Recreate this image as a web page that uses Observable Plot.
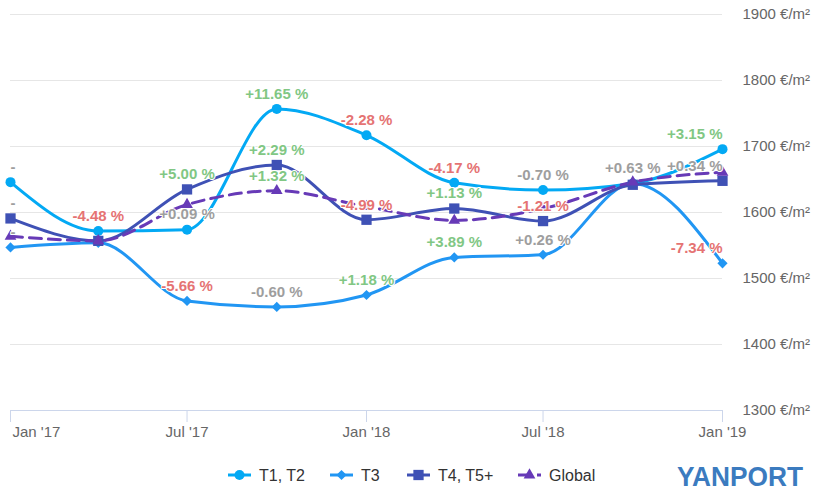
<!DOCTYPE html>
<html>
<head>
<meta charset="utf-8">
<script src="https://cdn.jsdelivr.net/npm/d3@7"></script>
<script src="https://cdn.jsdelivr.net/npm/@observablehq/plot@0.6"></script>
<style>
  body { margin: 0; background: #fff; }
  #chart { width: 824px; font-family: "Liberation Sans", Arial, sans-serif; }
  #chart svg { display: block; }
</style>
</head>
<body>
<div id="chart"></div>
<script>
// ---- data ----
const dates = ["2017-01-01","2017-04-01","2017-07-01","2017-10-01","2018-01-01","2018-04-01","2018-07-01","2018-10-01","2019-01-01"];
const seriesNames = ["T1, T2", "T3", "T4, T5+", "Global"];
const t1t2 = [1646, 1572, 1574, 1757, 1717, 1645, 1634, 1644, 1696];
const t3 = [1547, 1554, 1466, 1457, 1475, 1532, 1536, 1644, 1523];
const t4t5 = [1591, 1557, 1635, 1672, 1589, 1606, 1587, 1642, 1648];
const globalSeries = [1564, 1557, 1612, 1633, 1609, 1588, 1606, 1646, 1661];
const t1t2Labels = ["-", "-4.48 %", "+0.09 %", "+11.65 %", "-2.28 %", "-4.17 %", "-0.70 %", "+0.63 %", "+3.15 %"];
const t3Labels = ["-", null, "-5.66 %", "-0.60 %", "+1.18 %", "+3.89 %", "+0.26 %", null, "-7.34 %"];
const t4t5Labels = ["-", null, "+5.00 %", "+2.29 %", "-4.99 %", "+1.13 %", "-1.21 %", null, "+0.34 %"];
const globalLabels = [null, null, null, "+1.32 %", null, null, null, null, null];
const yTicks = [1300, 1400, 1500, 1600, 1700, 1800, 1900];
const xTicks = ["2017-01-01", "2017-07-01", "2018-01-01", "2018-07-01", "2019-01-01"];
const xTickLabels = ["Jan '17", "Jul '17", "Jan '18", "Jul '18", "Jan '19"];

// ---- styles ----
const colors = ["#03a9f4", "#2196f3", "#3f51b5", "#673ab7"];
const symbols = ["circle", "diamond2", "square", "triangle2"];
const radii = [5, 4.6, 5.8, 5.6];
const font = "Liberation Sans, Arial, sans-serif";

const allValues = [t1t2, t3, t4t5, globalSeries];
const allLabels = [t1t2Labels, t3Labels, t4t5Labels, globalLabels];

const series = seriesNames.map((name, i) =>
  dates.map((d, j) => ({date: new Date(d), value: allValues[i][j], name, label: allLabels[i][j], idx: j}))
);

const labelRows = series.flat().filter(r => r.label != null);
const last = dates.length - 1;
function labelColor(r) {
  const v = parseFloat(r.label.replace(/[^\d.+-]/g, ""));
  if (isNaN(v) || Math.abs(v) < 1) return "#9e9e9e";
  return v > 0 ? "#81c784" : "#e57373";
}

const marks = [
  Plot.gridY(yTicks.filter(t => t !== 1300), {stroke: "#e6e6e6", strokeOpacity: 1}),
  Plot.ruleY([1300], {stroke: "#ccd6eb"}),
  Plot.axisX({ticks: xTicks.map(d => new Date(d)), tickSize: 12, stroke: "#ccd6eb", strokeOpacity: 1, tickFormat: () => "", label: null}),
  Plot.text(xTicks.slice(0, 1).map((d, i) => ({date: new Date(d), t: xTickLabels[i]})),
    {x: "date", y: () => 1300, text: "t", dy: 22, textAnchor: "start", dx: 2, fontSize: 15, fill: "#666"}),
  Plot.text(xTicks.slice(1).map((d, i) => ({date: new Date(d), t: xTickLabels[i + 1]})),
    {x: "date", y: () => 1300, text: "t", dy: 22, textAnchor: "middle", fontSize: 15, fill: "#666"}),
  Plot.axisY({anchor: "right", ticks: yTicks, tickSize: 0, tickPadding: 20, tickFormat: d => `${d} €/m²`, fontSize: 15, fill: "#666", label: null})
];

series.forEach((rows, i) => {
  marks.push(Plot.line(rows, {
    x: "date", y: "value", stroke: colors[i], strokeWidth: 3, curve: "monotone-x",
    strokeDasharray: i === 3 ? "12,7" : null
  }));
});
series.forEach((rows, i) => {
  marks.push(Plot.dot(rows, {x: "date", y: "value", symbol: symbols[i], r: radii[i], fill: colors[i], stroke: "none"}));
});

const textOpts = {x: "date", y: "value", text: "label", dy: -15, fontSize: 15, fontWeight: "bold",
  fill: labelColor, stroke: "white", strokeWidth: 2};
marks.push(Plot.text(labelRows.filter(r => r.idx === 0), {...textOpts, textAnchor: "start"}));
marks.push(Plot.text(labelRows.filter(r => r.idx > 0 && r.idx < last), {...textOpts, textAnchor: "middle"}));
marks.push(Plot.text(labelRows.filter(r => r.idx === last), {...textOpts, textAnchor: "end"}));

const chart = Plot.plot({
  width: 824,
  height: 450,
  marginLeft: 10,
  marginRight: 102,
  marginTop: 14,
  marginBottom: 40,
  x: {type: "utc", domain: [new Date(dates[0]), new Date(dates[last])]},
  y: {domain: [1300, 1900]},
  style: {fontFamily: font, background: "white", overflow: "visible"},
  marks
});
document.getElementById("chart").appendChild(chart);

// ---- legend (below the plot) ----
const legend = d3.create("svg").attr("width", 824).attr("height", 49)
  .style("font-family", font);
const legendX = [228, 330, 407, 518];
seriesNames.forEach((name, i) => {
  const g = legend.append("g").attr("transform", `translate(${legendX[i]},25)`);
  g.append("line").attr("x1", 0).attr("x2", 23).attr("y1", 0).attr("y2", 0)
    .attr("stroke", colors[i]).attr("stroke-width", 3)
    .attr("stroke-dasharray", i === 3 ? "12,7" : null);
  const symMap = {circle: d3.symbolCircle, diamond2: d3.symbolDiamond2, square: d3.symbolSquare, triangle2: d3.symbolTriangle2};
  g.append("path").attr("transform", "translate(11.5,0)")
    .attr("d", d3.symbol(symMap[symbols[i]], Math.PI * radii[i] * radii[i])())
    .attr("fill", colors[i]);
  g.append("text").attr("x", 31).attr("y", 0).attr("dy", "0.35em")
    .attr("font-size", 16).attr("fill", "#333").text(name);
});
legend.append("text").attr("x", 677).attr("y", 36)
  .attr("font-size", 27).attr("font-weight", "bold").attr("fill", "#3b7bbf")
  .attr("textLength", 126).attr("lengthAdjust", "spacingAndGlyphs")
  .text("YANPORT");
document.getElementById("chart").appendChild(legend.node());
</script>
</body>
</html>
